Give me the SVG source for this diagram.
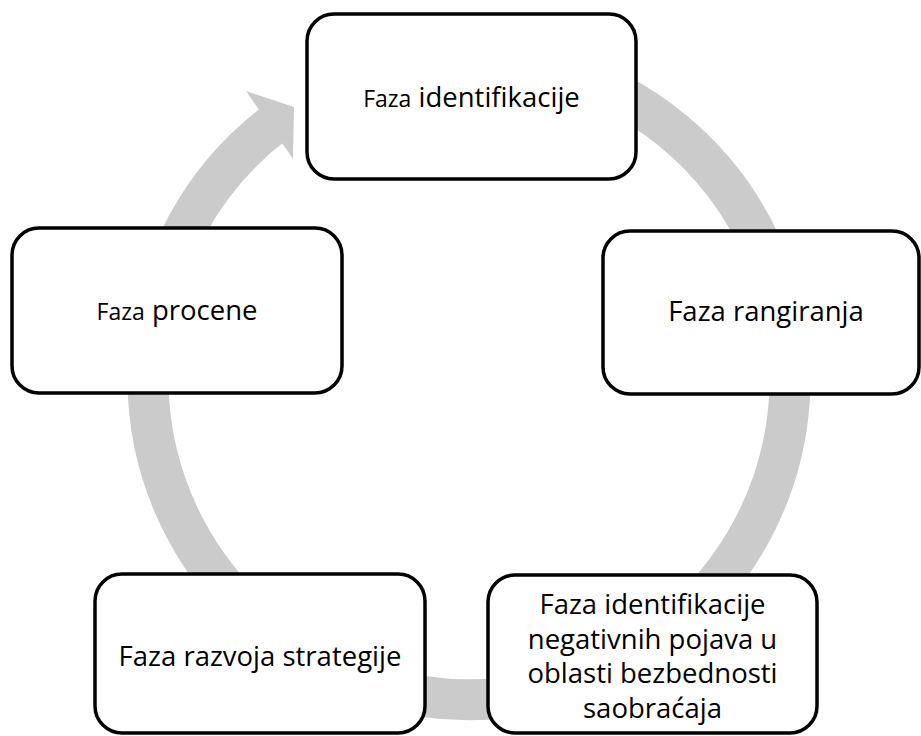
<svg xmlns="http://www.w3.org/2000/svg" width="921" height="736" viewBox="0 0 921 736">
<style>
.box{fill:#ffffff;stroke:#000000;stroke-width:3.5}
.lbl{font-family:"Open Sans","Liberation Sans",sans-serif;font-size:27.5px;fill:#000000;text-anchor:middle}
.sm{font-size:23px}
.ring{fill:none;stroke:#cbcbcb;stroke-width:41}
.head{fill:#cbcbcb}
</style>
<rect width="921" height="736" fill="#ffffff"/>
<g id="connectors">
<path class="ring" d="M553,68.9 A321,321 0 1 1 274.6,123.3"/>
<polygon class="head" points="246,91 294,107 293,159"/>
</g>
<g id="node-identifikacija">
<rect class="box" x="307" y="14" width="329" height="165" rx="27"/>
<text class="lbl" x="471.5" y="107"><tspan class="sm">Faza</tspan> identifikacije</text>
</g>
<g id="node-rangiranje">
<rect class="box" x="603" y="231" width="316" height="163" rx="27"/>
<text class="lbl" x="766" y="321">Faza rangiranja</text>
</g>
<g id="node-negativne-pojave">
<rect class="box" x="488" y="575" width="329" height="158" rx="27"/>
<text class="lbl" x="652.5" y="614">Faza identifikacije</text>
<text class="lbl" x="652.5" y="649">negativnih pojava u</text>
<text class="lbl" x="652.5" y="683">oblasti bezbednosti</text>
<text class="lbl" x="652.5" y="718">saobraćaja</text>
</g>
<g id="node-strategija">
<rect class="box" x="95" y="574" width="330" height="159" rx="27"/>
<text class="lbl" x="260" y="666">Faza razvoja strategije</text>
</g>
<g id="node-procena">
<rect class="box" x="12" y="228" width="330" height="165" rx="27"/>
<text class="lbl" x="177" y="320"><tspan class="sm">Faza</tspan> procene</text>
</g>
</svg>
